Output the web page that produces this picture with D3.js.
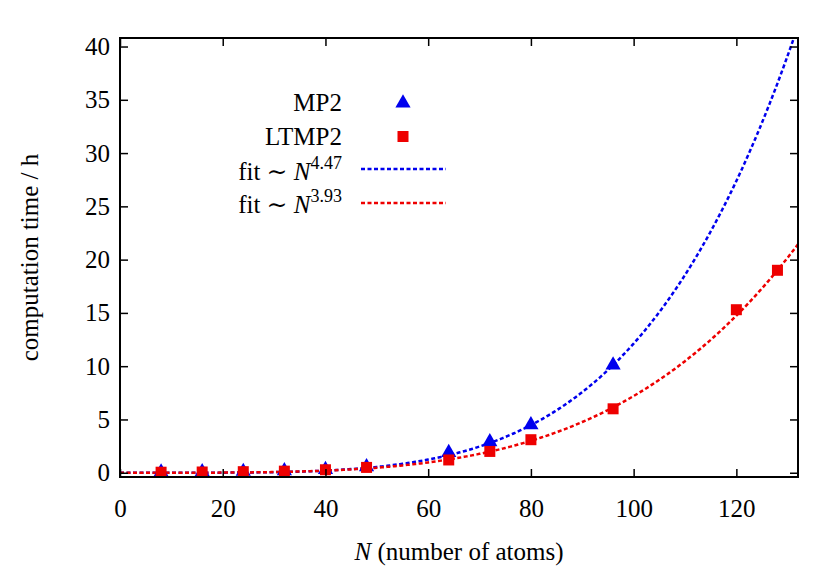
<!DOCTYPE html>
<html><head><meta charset="utf-8">
<script src="https://cdn.jsdelivr.net/npm/d3@7"></script>
<style>
body{margin:0;background:#fff}
svg text{font-family:"Liberation Serif","DejaVu Serif",serif !important;fill:#000}
</style></head>
<body><svg id="chart" width="830" height="581"></svg>
<script>
// measured points
var mp2N = [8, 16, 24, 32, 40, 48, 64, 72, 80, 96];
var mp2T = [0.06, 0.08, 0.12, 0.18, 0.3, 0.55, 1.9, 2.9, 4.5, 10.1];
var ltN  = [8, 16, 24, 32, 40, 48, 64, 72, 80, 96, 120, 128];
var ltT  = [0.05, 0.07, 0.1, 0.15, 0.28, 0.5, 1.2, 2.0, 3.1, 6.0, 15.3, 19.0];
// fit parameters: t = c * N^p  (c from anchor point)
var mp2Fit = {p: 4.47, n0: 96, t0: 10.1};
var ltFit  = {p: 3.93, n0: 128, t0: 19.0};
var xTicks = [0, 20, 40, 60, 80, 100, 120];
var yTicks = [0, 5, 10, 15, 20, 25, 30, 35, 40];

var svg = d3.select('#chart');
var L = 120, R = 798, T = 38, B = 477;
var FS = 25;
var x = d3.scaleLinear().domain([0, 132]).range([L, R]);
var y = d3.scaleLinear().domain([-0.4, 40.8]).range([B, T]);

var defs = svg.append('defs');
defs.append('clipPath').attr('id', 'clip').append('rect')
    .attr('x', L).attr('y', T).attr('width', R - L).attr('height', B - T);

function fitLine(f){
  var pts = [];
  for (var n = 0; n <= 132; n += 0.5) pts.push([n, f.t0 * Math.pow(n / f.n0, f.p)]);
  return pts;
}
var line = d3.line().x(function(d){return x(d[0]);}).y(function(d){return y(d[1]);});

var g = svg.append('g').attr('clip-path', 'url(#clip)');
g.append('path').datum(fitLine(mp2Fit)).attr('d', line)
  .attr('fill', 'none').attr('stroke', '#0000ee').attr('stroke-width', 2.5).attr('stroke-dasharray', '4,2.5');
g.append('path').datum(fitLine(ltFit)).attr('d', line)
  .attr('fill', 'none').attr('stroke', '#ee0000').attr('stroke-width', 2.5).attr('stroke-dasharray', '4,2.5');

var tri = d3.symbol().type(d3.symbolTriangle).size(100);
g.selectAll('.mp2').data(mp2N).enter().append('path')
  .attr('d', tri).attr('fill', '#0000ee')
  .attr('transform', function(d, i){ return 'translate(' + x(d) + ',' + y(mp2T[i]) + ')'; });
g.selectAll('.lt').data(ltN).enter().append('rect')
  .attr('x', function(d){ return x(d) - 5.5; })
  .attr('y', function(d, i){ return y(ltT[i]) - 5.5; })
  .attr('width', 11).attr('height', 11).attr('fill', '#ee0000');

// axes with inward ticks on all four sides
svg.append('g').attr('transform', 'translate(0,' + B + ')')
  .call(d3.axisBottom(x).tickValues(xTicks).tickSizeInner(-8).tickSizeOuter(0).tickPadding(22))
  .call(function(a){ a.select('.domain').remove(); a.selectAll('text').attr('font-size', FS).attr('dy', '0.71em'); });
svg.append('g').attr('transform', 'translate(0,' + T + ')')
  .call(d3.axisTop(x).tickValues(xTicks).tickSizeInner(-8).tickSizeOuter(0).tickFormat(''))
  .select('.domain').remove();
svg.append('g').attr('transform', 'translate(' + L + ',0)')
  .call(d3.axisLeft(y).tickValues(yTicks).tickSizeInner(-8).tickSizeOuter(0).tickPadding(10))
  .call(function(a){ a.select('.domain').remove(); a.selectAll('text').attr('font-size', FS); });
svg.append('g').attr('transform', 'translate(' + R + ',0)')
  .call(d3.axisRight(y).tickValues(yTicks).tickSizeInner(-8).tickSizeOuter(0).tickFormat(''))
  .select('.domain').remove();
svg.selectAll('.tick line').attr('stroke', '#000').attr('stroke-width', 1.5);
svg.append('rect').attr('x', L).attr('y', T).attr('width', R - L).attr('height', B - T)
  .attr('fill', 'none').attr('stroke', '#000').attr('stroke-width', 2);

// titles
svg.append('text').attr('transform', 'translate(38,' + ((T + B) / 2) + ') rotate(-90)')
  .attr('text-anchor', 'middle').attr('font-size', FS).text('computation time / h');
var xt = svg.append('text').attr('x', (L + R) / 2).attr('y', 560).attr('text-anchor', 'middle').attr('font-size', FS);
xt.append('tspan').attr('font-style', 'italic').text('N');
xt.append('tspan').text(' (number of atoms)');

// legend
var lg = svg.append('g');
var lx = 342;
lg.append('text').attr('x', lx).attr('y', 111).attr('text-anchor', 'end').attr('font-size', FS).text('MP2');
lg.append('path').attr('d', tri).attr('fill', '#0000ee').attr('transform', 'translate(403,103)');
lg.append('text').attr('x', lx).attr('y', 145).attr('text-anchor', 'end').attr('font-size', FS).text('LTMP2');
lg.append('rect').attr('x', 397.5).attr('y', 131).attr('width', 11).attr('height', 11).attr('fill', '#ee0000');
[[mp2Fit, '#0000ee', 180, 169], [ltFit, '#ee0000', 213, 203]].forEach(function(e){
  var t = lg.append('text').attr('x', lx).attr('y', e[2]).attr('text-anchor', 'end').attr('font-size', FS);
  t.append('tspan').text('fit ∼ ');
  t.append('tspan').attr('font-style', 'italic').text('N');
  t.append('tspan').attr('font-size', 18).attr('dy', -11).text(e[0].p.toFixed(2));
  lg.append('line').attr('x1', 361).attr('x2', 446).attr('y1', e[3]).attr('y2', e[3])
    .attr('stroke', e[1]).attr('stroke-width', 2.5).attr('stroke-dasharray', '4,2.5');
});
</script></body></html>
